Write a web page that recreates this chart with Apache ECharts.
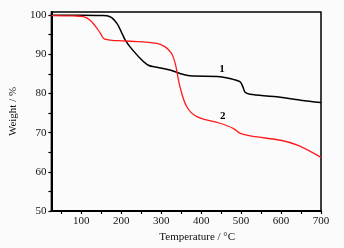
<!DOCTYPE html>
<html>
<head>
<meta charset="utf-8">
<script src="https://cdn.jsdelivr.net/npm/echarts@6/dist/echarts.min.js"></script>
<style>
  html, body { margin: 0; padding: 0; background: #fbfbfb; }
  #chart { width: 344px; height: 248px; }
</style>
</head>
<body>
<div id="chart"></div>
<script>
// sample 1 (black) : [temperature, weight %]
var curve1 = [
  [25, 100], [100, 100], [148, 99.9], [172, 99.6], [189, 97.9], [202, 95.3],
  [210, 93.6], [222, 91.9], [247, 89.0], [268, 87.2], [289, 86.7], [322, 86.0],
  [347, 85.1], [372, 84.5], [447, 84.3], [480, 83.6], [497, 83.0], [504, 81.8],
  [510, 80.3], [522, 79.8], [582, 79.2], [649, 78.3], [700, 77.7]
];
// sample 2 (red)
var curve2 = [
  [25, 99.9], [80, 99.8], [105, 99.6], [122, 98.7], [135, 97.2], [147, 95.5],
  [158, 93.9], [210, 93.4], [289, 92.8], [310, 91.9], [326, 90.2], [335, 87.7],
  [347, 81.7], [364, 76.6], [389, 74.1], [447, 72.4], [480, 71.1], [498, 69.8],
  [527, 69.1], [602, 68.0], [644, 66.7], [700, 63.7]
];
var xLabels = [100, 200, 300, 400, 500, 600, 700];
var xTicks = [50, 100, 150, 200, 250, 300, 350, 400, 450, 500, 550, 600, 650, 700];
var yLabels = [50, 60, 70, 80, 90, 100];
var yTicks = [50, 55, 60, 65, 70, 75, 80, 85, 90, 95, 100];
var labelPos1 = [452, 86.3];
var labelPos2 = [454, 74.2];

var font = '"Liberation Serif", "DejaVu Serif", serif';
var chart = echarts.init(document.getElementById('chart'));
chart.setOption({
  backgroundColor: '#fbfbfb',
  animation: false,
  grid: {
    left: 51, right: 23, top: 12, bottom: 37,
    show: true,
    borderColor: '#000',
    borderWidth: 1.5,
    backgroundColor: 'transparent'
  },
  xAxis: {
    type: 'value',
    min: 25,
    max: 700,
    name: 'Temperature / \u00b0C',
    nameLocation: 'middle',
    nameGap: 19,
    nameTextStyle: { fontFamily: font, fontSize: 11, color: '#111', padding: [0, 0, 0, 22] },
    axisLine: { show: true, lineStyle: { color: '#000', width: 2 } },
    axisTick: { show: true, length: 3, customValues: xTicks, lineStyle: { color: '#000', width: 1.2 } },
    axisLabel: { customValues: xLabels, fontFamily: font, fontSize: 11, color: '#111', margin: 5 },
    splitLine: { show: false }
  },
  yAxis: {
    type: 'value',
    min: 50,
    max: 100.8,
    name: 'Weight / %',
    nameLocation: 'middle',
    nameGap: 30,
    nameTextStyle: { fontFamily: font, fontSize: 11, color: '#111' },
    axisLine: { show: true, lineStyle: { color: '#000', width: 2 } },
    axisTick: { show: true, length: 3, customValues: yTicks, lineStyle: { color: '#000', width: 1.2 } },
    axisLabel: { customValues: yLabels, fontFamily: font, fontSize: 11, color: '#111', margin: 5 },
    splitLine: { show: false }
  },
  series: [
    {
      name: '1',
      type: 'line',
      data: curve1,
      smooth: 0.35,
      symbol: 'none',
      lineStyle: { color: '#000', width: 1.5 },
      markPoint: {
        symbol: 'circle',
        symbolSize: 0,
        label: { show: true, formatter: '1', fontFamily: font, fontWeight: 'bold', fontSize: 11, color: '#000' },
        data: [{ coord: labelPos1 }]
      }
    },
    {
      name: '2',
      type: 'line',
      data: curve2,
      smooth: 0.35,
      symbol: 'none',
      lineStyle: { color: '#ff1a1a', width: 1.3 },
      markPoint: {
        symbol: 'circle',
        symbolSize: 0,
        label: { show: true, formatter: '2', fontFamily: font, fontWeight: 'bold', fontSize: 11, color: '#000' },
        data: [{ coord: labelPos2 }]
      }
    }
  ]
});
</script>
</body>
</html>
